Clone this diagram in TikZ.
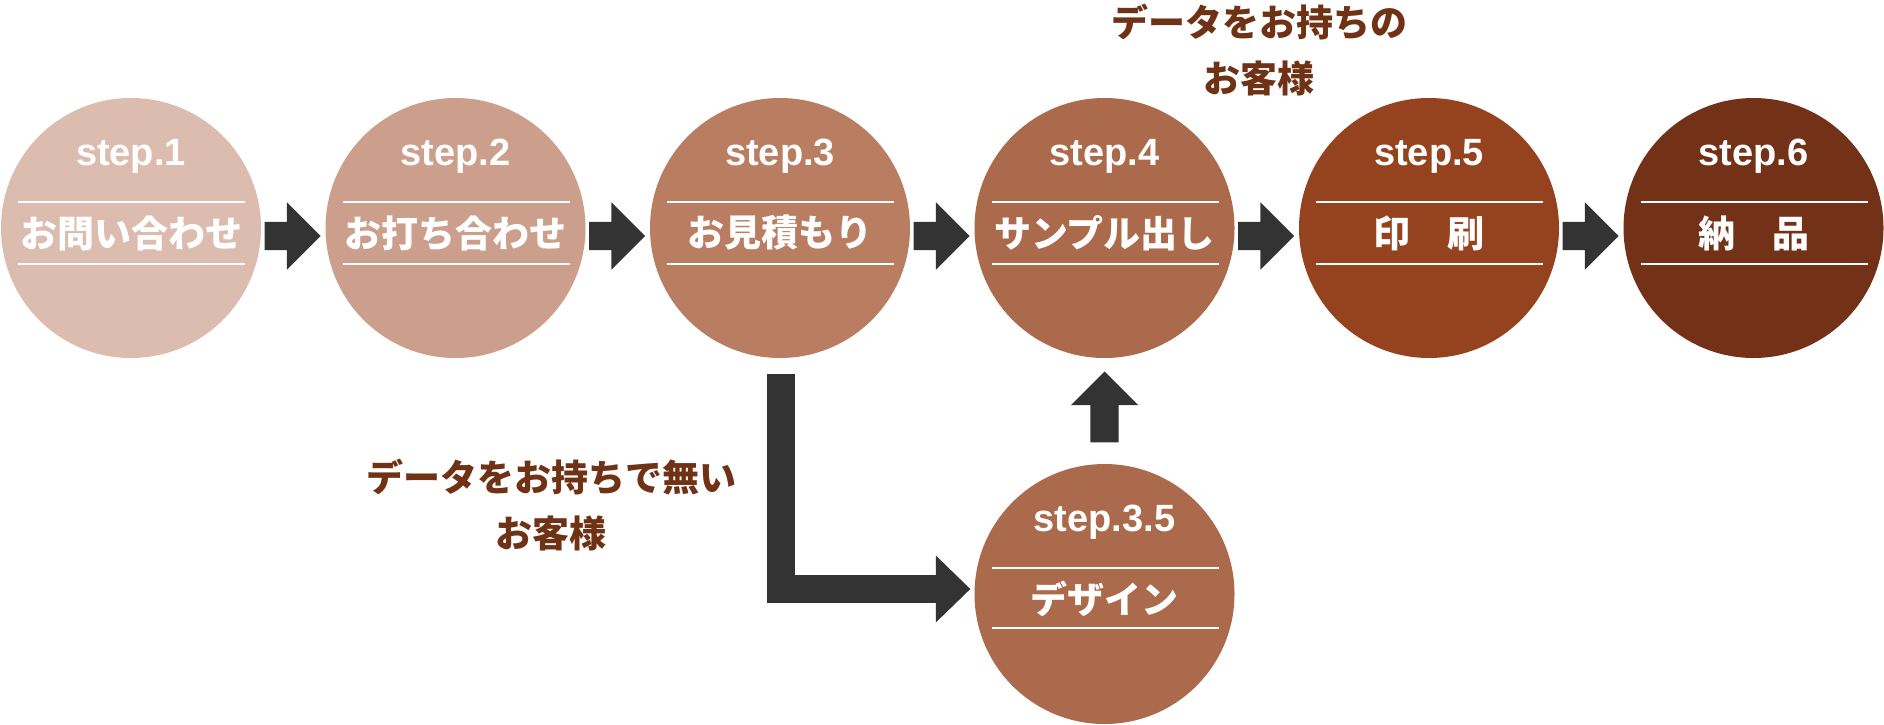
\documentclass[tikz,border=0pt]{standalone}
\usepackage{fontspec}
\setmainfont{Liberation Sans}
\newfontfamily\jpfont{Noto Sans CJK JP}
\usepackage{tikz}
\usetikzlibrary{calc,shapes.arrows}
\definecolor{stepA}{HTML}{DBBCAE}
\definecolor{stepB}{HTML}{CB9F8B}
\definecolor{stepC}{HTML}{B97D62}
\definecolor{stepD}{HTML}{AB6A4B}
\definecolor{stepE}{HTML}{95431E}
\definecolor{stepF}{HTML}{733217}
\definecolor{notebrown}{HTML}{6F3215}
\definecolor{arrowgray}{HTML}{333333}

\begin{document}
\begin{tikzpicture}[x=1pt,y=-1pt,
  stepcircle/.style={circle,inner sep=0pt,minimum size=260pt},
  steptitle/.style={text=white,inner sep=0pt,font=\fontsize{38}{40}\selectfont\bfseries},
  steplabel/.style={text=white,inner sep=0pt,font=\fontsize{37}{40}\selectfont\jpfont\bfseries},
  steprule/.style={white,line width=2pt},
  blockarrow/.style={single arrow,fill=arrowgray,inner sep=14pt,minimum height=56pt,
    single arrow head extend=19.5pt,anchor=tip},
  note/.style={text=notebrown,align=center,inner sep=0pt,font=\fontsize{37}{56}\selectfont\jpfont\bfseries}]
  \useasboundingbox (0,0) rectangle (1884,724);
  % main row
  \foreach \i/\c/\t/\l in {1/stepA/step.1/お問い合わせ,2/stepB/step.2/お打ち合わせ,
      3/stepC/step.3/お見積もり,4/stepD/step.4/サンプル出し,5/stepE/step.5/印　刷,6/stepF/step.6/納　品}{
    \node[stepcircle,fill=\c] (s\i) at ({131+324.5*(\i-1)},228) {};
    \node[steptitle] (t\i) at ($(s\i)+(0,-72)$) {\t};
    \node[steplabel] (l\i) at ($(s\i)+(0,5)$) {\l};
    \draw[steprule] ($(s\i)+(-113,-26)$) -- ($(s\i)+(114,-26)$);
    \draw[steprule] ($(s\i)+(-113,36)$) -- ($(s\i)+(114,36)$);
  }
  \foreach \i [evaluate=\i as \j using int(\i+1)] in {1,...,5}
    \node[blockarrow] (a\i) at ($(s\j.west)+(-4.5,8)$) {};
  % design step
  \node[stepcircle,fill=stepD] (s35) at ($(s4)+(0,366)$) {};
  \node[steptitle] (t35) at ($(s35)+(0,-72)$) {step.3.5};
  \node[steplabel] (l35) at ($(s35)+(0,5)$) {デザイン};
  \draw[steprule] ($(s35)+(-113,-26)$) -- ($(s35)+(114,-26)$);
  \draw[steprule] ($(s35)+(-113,34)$) -- ($(s35)+(114,34)$);
  \node[blockarrow,minimum height=71pt,rotate=90] (up) at ($(s4.south)+(0,13)$) {};
  % bent arrow s3 -> s35
  \coordinate (hb) at ($(s35.west)+(-38,-5)$);
  \draw[arrowgray,line width=28pt] ($(s3.south)+(1,16)$) |- (hb);
  \fill[arrowgray] ($(hb)+(-0.5,-33.5)$) -- ($(hb)+(34,0)$) -- ($(hb)+(-0.5,33.5)$) -- cycle;
  % notes
  \node[note] (n1) at (1259,50) {データをお持ちの\\お客様};
  \node[note] (n2) at (551,505) {データをお持ちで無い\\お客様};
\end{tikzpicture}
\end{document}
